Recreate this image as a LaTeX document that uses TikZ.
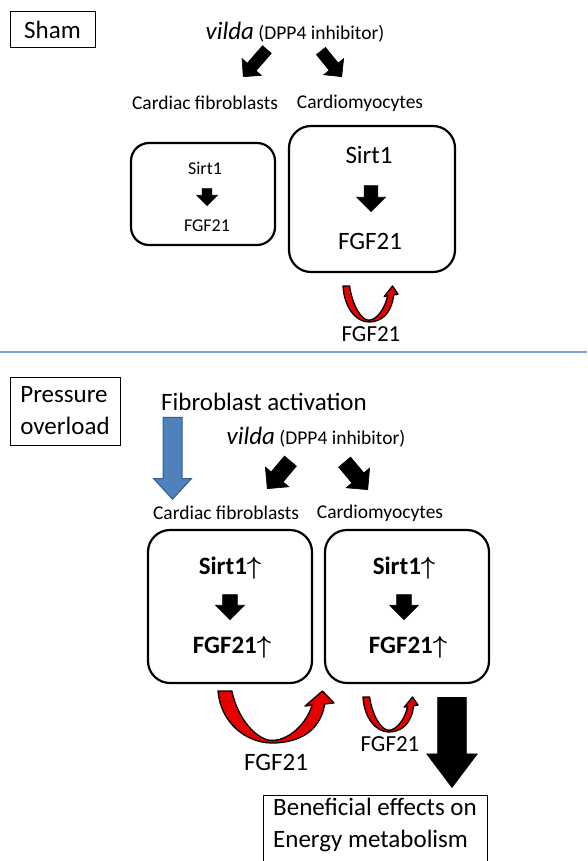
\documentclass[tikz,border=0pt]{standalone}
\usepackage{fontspec}
\setmainfont{Carlito}
\usetikzlibrary{shapes.arrows}
\usetikzlibrary{positioning}

\definecolor{fgfred}{RGB}{230,0,0}
\definecolor{actblue}{RGB}{79,129,189}
\definecolor{actblueline}{RGB}{56,93,138}
\definecolor{sepblue}{RGB}{122,162,214}

%Curved FGF21 arrow, drawn in a unit box (y runs down)
\tikzset{
  uarrow/.pic={
    \draw[line width=1.3pt, fill=fgfred, line join=round]
      (0,0) -- (0.12,0)
      .. controls (0.17,0.55) and (0.34,0.95) .. (0.466,0.95)
      .. controls (0.62,0.95) and (0.77,0.6) .. (0.81,0.27)
      -- (0.75,0.29) -- (0.9,0) -- (1,0.23) -- (0.92,0.25)
      .. controls (0.88,0.8) and (0.68,1) .. (0.466,1)
      .. controls (0.24,1) and (0.02,0.6) .. (0,0) -- cycle;
  }
}

\begin{document}
\begin{tikzpicture}[x=1pt, y=-1pt,
    small/.style={font=\fontsize{19.5}{23}\selectfont},
    large/.style={font=\fontsize{25}{32}\selectfont},
    strong/.style={font=\fontsize{25}{32}\selectfont\bfseries\boldmath},
    cellbox/.style={draw, line width=2.2pt, rounded corners=18pt},
    tagbox/.style={draw, line width=1pt, inner sep=0pt},
    blockarrow/.style={single arrow, draw=black, fill=black, inner xsep=0pt, line width=0.6pt}]
  \useasboundingbox (0,0) rectangle (587,861);

  %Sham
  \node[tagbox, large, minimum width=85pt, minimum height=36pt] (sham) at (52.5,30) {Sham};
  \node[small] (vildaA) at (295,32) {{\fontsize{25}{30}\selectfont\itshape vilda} (DPP4 inhibitor)};
  \node[blockarrow, minimum height=36pt, inner ysep=5.5pt, single arrow head extend=7pt, rotate=-131, anchor=tip] (toFibA) at (243,77) {};
  \node[blockarrow, minimum height=33pt, inner ysep=5.5pt, single arrow head extend=7pt, rotate=-51, anchor=tip] (toMyoA) at (342,77) {};
  \node[small] (fibA) at (205,103) {Cardiac fibroblasts};
  \node[small] (myoA) at (360,103) {Cardiomyocytes};

  %Sham boxes
  \node[cellbox, minimum width=144pt, minimum height=102pt] (boxFibA) at (203,194) {};
  \node[font=\fontsize{18}{20}\selectfont] (sirtFibA) at (205,168) {Sirt1};
  \node[blockarrow, minimum height=17pt, inner ysep=4.5pt, single arrow head extend=5.5pt, rotate=-90, anchor=tip] (stepFibA) at (207,206) {};
  \node[font=\fontsize{18}{20}\selectfont] (fgfFibA) at (207,226) {FGF21};

  \node[cellbox, rounded corners=22pt, minimum width=166pt, minimum height=146pt] (boxMyoA) at (372,199) {};
  \node[large] (sirtMyoA) at (369,155) {Sirt1};
  \node[blockarrow, minimum height=26pt, inner ysep=6.5pt, single arrow head extend=7.5pt, rotate=-90, anchor=tip] (stepMyoA) at (371,212) {};
  \node[large] (fgfMyoA) at (370,241) {FGF21};

  \pic[xscale=55, yscale=36] (loopMyoA) at (343,286) {uarrow};
  \node[font=\fontsize{23}{27}\selectfont] (fgfOutA) at (371,334) {FGF21};

  %Separator
  \draw[sepblue, line width=2pt] (0,352) -- (587,352);

  %Pressure overload
  \node[tagbox, large, align=left, minimum width=110pt, minimum height=68pt] (tac) at (65,411) {Pressure\\overload};
  \node[large] (activ) at (264,402) {Fibroblast activation};
  \node[single arrow, draw=actblueline, fill=actblue, line width=1pt, inner xsep=0pt, inner ysep=9pt, minimum height=82pt, single arrow head extend=9.5pt, single arrow tip angle=85, rotate=-90, anchor=tip] (toFibAct) at (172.5,500) {};
  \node[small] (vildaB) at (316,437) {{\fontsize{25}{30}\selectfont\itshape vilda} (DPP4 inhibitor)};
  \node[blockarrow, minimum height=36pt, inner ysep=7.5pt, single arrow head extend=7.5pt, rotate=-130, anchor=tip] (toFibB) at (267,489) {};
  \node[blockarrow, minimum height=36pt, inner ysep=7.5pt, single arrow head extend=7.5pt, rotate=-50, anchor=tip] (toMyoB) at (368,490) {};
  \node[small] (fibB) at (226,513) {Cardiac fibroblasts};
  \node[small] (myoB) at (380,513) {Cardiomyocytes};

  %Pressure overload boxes
  \node[cellbox, rounded corners=22pt, minimum width=164pt, minimum height=153pt] (boxFibB) at (230,606.5) {};
  \node[strong] (sirtFibB) at (230,568) {Sirt1$\uparrow$};
  \node[blockarrow, minimum height=25pt, inner ysep=7pt, single arrow head extend=7pt, rotate=-90, anchor=tip] (stepFibB) at (230,620) {};
  \node[strong] (fgfFibB) at (232,647) {FGF21$\uparrow$};

  \node[cellbox, rounded corners=22pt, minimum width=164pt, minimum height=153pt] (boxMyoB) at (407,606.5) {};
  \node[strong] (sirtMyoB) at (404,568) {Sirt1$\uparrow$};
  \node[blockarrow, minimum height=25pt, inner ysep=7pt, single arrow head extend=7pt, rotate=-90, anchor=tip] (stepMyoB) at (404,620) {};
  \node[strong] (fgfMyoB) at (408,647) {FGF21$\uparrow$};

  \pic[xscale=116, yscale=52] (crossB) at (218,691) {uarrow};
  \node[large] (fgfCrossB) at (276,762) {FGF21};
  \pic[xscale=55, yscale=35] (loopMyoB) at (363,697) {uarrow};
  \node[font=\fontsize{23}{27}\selectfont] (fgfLoopB) at (390,744.5) {FGF21};

  %Outcome
  \node[blockarrow, minimum height=90pt, inner ysep=14pt, single arrow head extend=11pt, single arrow tip angle=74, rotate=-90, anchor=tip] (toBenefit) at (452,788) {};
  \draw[line width=1pt] (263,875) |- (487,795) -- (487,875);
  \node[large, align=left, anchor=north west, inner sep=0pt] (benefit) at (273,798) {Beneficial effects on\\Energy metabolism};
\end{tikzpicture}
\end{document}
